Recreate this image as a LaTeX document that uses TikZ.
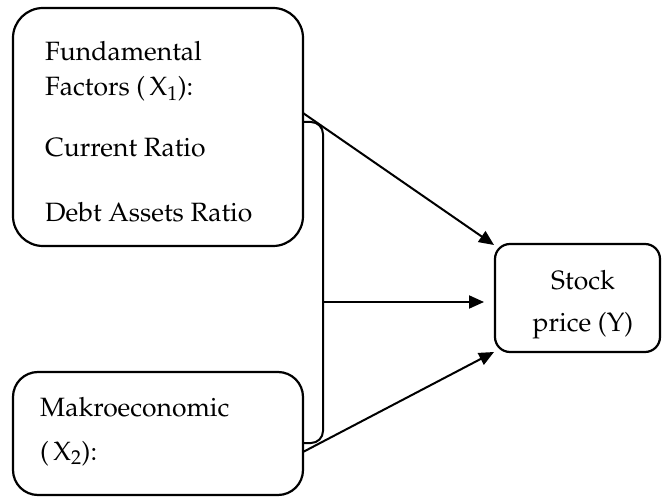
\documentclass[tikz,border=0pt]{standalone}
\usepackage[T1]{fontenc}
\usepackage{mathpazo}
\usetikzlibrary{arrows.meta}
\begin{document}
\begin{tikzpicture}[x=1pt,y=-1pt,
  box/.style={draw,line width=2.2pt,inner sep=0pt},
  txt/.style={anchor=base west,inner sep=0pt,font=\fontsize{26.5}{32}\selectfont},
  ctxt/.style={anchor=base,inner sep=0pt,font=\fontsize{26.5}{32}\selectfont},
  conn/.style={line width=2pt},
  arr/.style={line width=2pt,-{Triangle[length=15pt,width=13pt]}}]
\useasboundingbox (0,0) rectangle (662,497);
% boxes
\draw[box,rounded corners=30pt] (13,8) rectangle (303,246);
\draw[box,rounded corners=25pt] (13,372) rectangle (303,495);
\draw[box,rounded corners=15pt] (495,244) rectangle (660,352);
% texts
\node[txt] (t1) at (45,61) {Fundamental};
\node[txt] (t2) at (45,96) {Factors (\,$\mathrm{X}_1$):};
\node[txt] (t3) at (45,157) {Current Ratio};
\node[txt] (t4) at (45,222) {Debt Assets Ratio};
\node[txt] (m1) at (40,417) {Makroeconomic};
\node[txt] (m2) at (40,460) {(\,$\mathrm{X}_2$):};
\node[ctxt] (s1) at (583,290) {Stock};
\node[ctxt] (s2) at (583,332) {price (Y)};
% connector coordinates
\coordinate (fa) at (303,113);
\coordinate (fb) at (303,122);
\coordinate (ma) at (303,443);
\coordinate (mb) at (303,452);
\coordinate (br) at (323,302);
\coordinate (ya) at (494,245);
\coordinate (yb) at (484,302);
\coordinate (yc) at (494,352);
% bracket
\draw[conn,rounded corners=12pt] (fb) -- (323,122) -- (323,443) -- (ma);
% arrows
\draw[arr] (fa) -- (ya);
\draw[arr] (br) -- (yb);
\draw[arr] (mb) -- (yc);
\end{tikzpicture}
\end{document}
